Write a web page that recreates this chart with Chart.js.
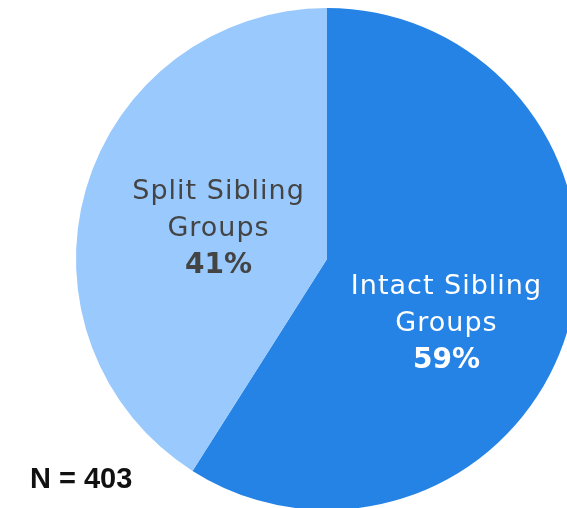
<!DOCTYPE html>
<html>
<head>
<meta charset="utf-8">
<script src="https://cdn.jsdelivr.net/npm/chart.js@4.4.0/dist/chart.umd.min.js"></script>
<style>
    html, body { margin: 0; padding: 0; background: #ffffff; overflow: hidden; }
    #wrap { position: relative; width: 567px; height: 508px; }
    #note { position: absolute; left: 30px; top: 462px; font: bold 29px "Liberation Sans", Arial, sans-serif; color: #111; }
</style>
</head>
<body>
<div id="wrap">
    <canvas id="myChart" width="567" height="508"></canvas>
    <div id="note">N = 403</div>
</div>
<script>
var labels = [["Intact Sibling", "Groups"], ["Split Sibling", "Groups"]];
var values = [59, 41];
var colors = ['#2583e6', '#99c9fd'];
var text_colors = ['#ffffff', '#444444'];
// where each label sits: share of radius and turn from the slice middle (deg)
var label_dist = [0.54, 0.45];
var label_turn = [12, 0];

var slice_labels = {
    id: 'slice_labels',
    afterDatasetsDraw(chart) {
        let ctx = chart.ctx;
        let arcs = chart.getDatasetMeta(0).data;
        ctx.save();
        ctx.textAlign = 'center';
        ctx.textBaseline = 'middle';
        for (let i = 0; i < arcs.length; i++) {
            let a = arcs[i];
            let mid = (a.startAngle + a.endAngle) / 2 + label_turn[i] * Math.PI / 180;
            let r = a.outerRadius * label_dist[i];
            let x = a.x + Math.cos(mid) * r;
            let y = a.y + Math.sin(mid) * r + 1;
            ctx.fillStyle = text_colors[i];
            ctx.letterSpacing = '1px';
            ctx.font = '27px "DejaVu Sans", sans-serif';
            ctx.fillText(labels[i][0], x, y - 37);
            ctx.fillText(labels[i][1], x, y);
            ctx.letterSpacing = '0px';
            ctx.font = 'bold 28px "DejaVu Sans", sans-serif';
            ctx.fillText(values[i] + '%', x, y + 37);
        }
        ctx.restore();
    }
};

var ctx = document.getElementById('myChart');
var chart = new Chart(ctx, {
    type: 'pie',
    data: {
        labels: labels.map(l => l.join(' ')),
        datasets: [{
            data: values,
            backgroundColor: colors,
            borderWidth: 0,
            clip: false
        }]
    },
    options: {
        responsive: false,
        animation: false,
        radius: 251,
        layout: { padding: { left: 87, top: 10, right: 0, bottom: 0 } },
        plugins: {
            legend: { display: false },
            tooltip: { enabled: false }
        }
    },
    plugins: [slice_labels]
});
</script>
</body>
</html>
